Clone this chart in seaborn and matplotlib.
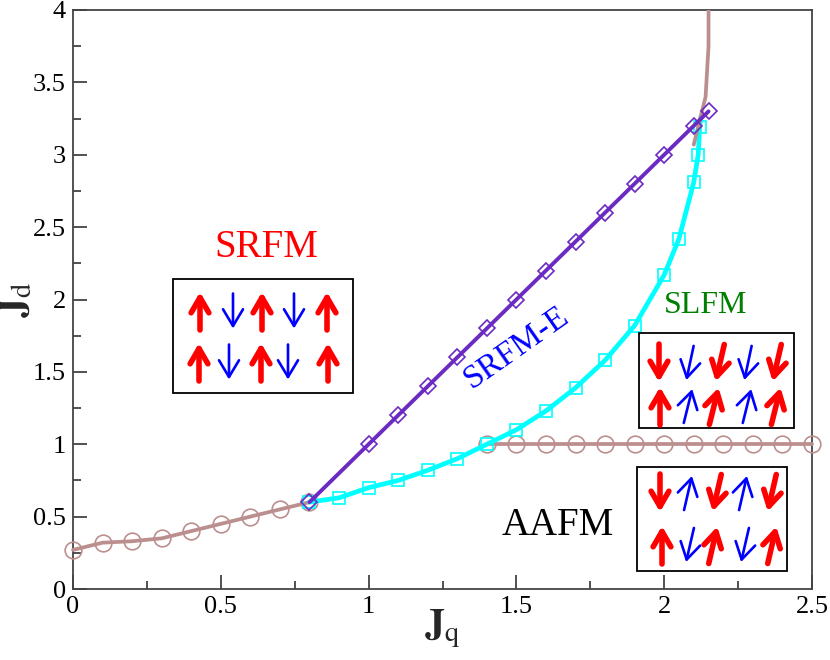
"""
Phase diagram in the (J_q, J_d) plane: SRFM, SRFM-E, SLFM and AAFM regions.
"""

import numpy as np
import matplotlib
matplotlib.use("Agg")
import matplotlib.pyplot as plt
from matplotlib.patches import Rectangle
from matplotlib.ticker import MultipleLocator, FuncFormatter
import seaborn as sns

# ---------------------------------------------------------------
# data
# ---------------------------------------------------------------
# AAFM / SRFM lower boundary (brown circles)
low_x = [0.0, 0.1, 0.2, 0.3, 0.4, 0.5, 0.6, 0.7, 0.8]
low_y = [0.27, 0.32, 0.33, 0.35, 0.40, 0.45, 0.50, 0.55, 0.60]

# AAFM / SLFM boundary (brown circles, flat)
flat_x = [1.4, 1.5, 1.6, 1.7, 1.8, 1.9, 2.0, 2.1, 2.2, 2.3, 2.4, 2.5]
flat_y = [1.0, 1.0, 1.0, 1.0, 1.0, 1.0, 1.0, 1.0, 1.0, 1.0, 1.0, 1.0]

# upper brown boundary (no markers)
top_x = [2.10, 2.14, 2.15, 2.15]
top_y = [3.07, 3.40, 3.75, 4.05]

# SRFM / SRFM-E boundary (purple diamonds)
diam_x = [0.8, 1.0, 1.1, 1.2, 1.3, 1.4, 1.5, 1.6, 1.7, 1.8, 1.9, 2.0, 2.1, 2.15]
diam_y = [0.6, 1.0, 1.2, 1.4, 1.6, 1.8, 2.0, 2.2, 2.4, 2.6, 2.8, 3.0, 3.2, 3.3]

# SRFM-E / SLFM boundary (cyan squares)
sq_x = [0.8, 0.9, 1.0, 1.1, 1.2, 1.3, 1.4, 1.5, 1.6, 1.7, 1.8, 1.9, 2.0, 2.05, 2.1, 2.115, 2.12]
sq_y = [0.60, 0.63, 0.70, 0.75, 0.82, 0.90, 1.00, 1.10, 1.23, 1.39, 1.58, 1.82, 2.17, 2.42, 2.81, 3.00, 3.19]
sq_line_end = (2.125, 3.27)

xticks = [0, 0.5, 1, 1.5, 2, 2.5]
yticks = [0, 0.5, 1, 1.5, 2, 2.5, 3, 3.5, 4]

BROWN = "#BC8F8F"
PURPLE = "#6B2BC2"
CYAN = "#00FFFF"

sns.set_style("ticks")
plt.rcParams["font.family"] = ["Liberation Serif", "DejaVu Serif"]
plt.rcParams["mathtext.fontset"] = "stix"

fig = plt.figure(figsize=(8.3, 6.6), dpi=100)
ax = fig.add_axes([73 / 830, 1 - 589 / 660, 739 / 830, 579 / 660])

# ---------------------------------------------------------------
# phase boundaries
# ---------------------------------------------------------------
common = dict(ax=ax, estimator=None, sort=False, clip_on=False)

sns.lineplot(x=low_x, y=low_y, color=BROWN, linewidth=2.7, marker="o", markersize=12,
             markerfacecolor="none", markeredgecolor=BROWN, markeredgewidth=1.2, zorder=3, **common)
sns.lineplot(x=flat_x, y=flat_y, color=BROWN, linewidth=2.7, marker="o", markersize=12,
             markerfacecolor="none", markeredgecolor=BROWN, markeredgewidth=1.2, zorder=3, **common)

sns.lineplot(x=sq_x + [sq_line_end[0]], y=sq_y + [sq_line_end[1]], color=CYAN,
             linewidth=3.4, zorder=4, **common)
sns.lineplot(x=sq_x, y=sq_y, color=CYAN, linewidth=0, marker="s", markersize=9,
             markerfacecolor="none", markeredgecolor=CYAN, markeredgewidth=1.2, zorder=4, **common)

sns.lineplot(x=top_x, y=top_y, color=BROWN, linewidth=2.7, zorder=5, ax=ax,
             estimator=None, sort=False)

sns.lineplot(x=diam_x, y=diam_y, color=PURPLE, linewidth=2.8, marker="D", markersize=8,
             markerfacecolor="none", markeredgecolor=PURPLE, markeredgewidth=1.2, zorder=6, **common)

# ---------------------------------------------------------------
# axes
# ---------------------------------------------------------------
ax.set_xlim(0, 2.5)
ax.set_ylim(0, 4)
ax.set_xticks(xticks)
ax.set_yticks(yticks)
ax.xaxis.set_minor_locator(MultipleLocator(0.25))
ax.yaxis.set_minor_locator(MultipleLocator(0.25))
fmt = FuncFormatter(lambda v, p: f"{v:g}")
ax.xaxis.set_major_formatter(fmt)
ax.yaxis.set_major_formatter(fmt)
ax.tick_params(which="both", direction="in", top=False, right=False, colors="#333333",
               labelcolor="black", labelsize=19, width=1.2)
ax.tick_params(which="major", length=10, pad=5)
ax.tick_params(which="minor", length=5.5)
for s in ax.spines.values():
    s.set_linewidth(1.3)
    s.set_color("#444444")

ax.set_xlabel(r"$\mathbf{J}_\mathrm{q}$", fontsize=29, labelpad=-7)
ax.set_ylabel(r"$\mathbf{J}_\mathrm{d}$", fontsize=29, labelpad=-2)

# ---------------------------------------------------------------
# region labels
# ---------------------------------------------------------------
ax.text(0.653, 2.356, "SRFM", color="red", fontsize=28, ha="center", va="center")
ax.text(1.50, 1.67, "SRFM-E", color="blue", fontsize=24, ha="center", va="center", rotation=35)
ax.text(2.141, 1.962, "SLFM", color="green", fontsize=23, ha="center", va="center")
ax.text(1.641, 0.442, "AAFM", color="black", fontsize=28, ha="center", va="center")

# ---------------------------------------------------------------
# spin cartoons (figure pixel coords, image y measured from top)
# ---------------------------------------------------------------
H = 660


def box(x0, y0, x1, y1):
    ax.add_patch(Rectangle((x0 / 830, 1 - y1 / H), (x1 - x0) / 830, (y1 - y0) / H,
                           transform=fig.transFigure, facecolor="white", clip_on=False,
                           edgecolor="black", linewidth=1.3, zorder=7))


def spin(cx, cy, up, tilt, red):
    # tilt in degrees, positive leans the head to the right
    length = 38 if red else 35
    t = np.radians(tilt)
    dx = 0.5 * length * np.sin(t)
    dy = 0.5 * length * np.cos(t)
    sgn = 1 if up else -1
    head = (cx + sgn * dx, H - cy + sgn * dy)
    tail = (cx - sgn * dx, H - cy - sgn * dy)
    if red:
        props = dict(arrowstyle="->,head_length=0.55,head_width=0.32", color="red", lw=4.0,
                     mutation_scale=20, shrinkA=0, shrinkB=0)
    else:
        props = dict(arrowstyle="->,head_length=0.6,head_width=0.36", color="blue", lw=1.9,
                     mutation_scale=20, shrinkA=0, shrinkB=0)
    a = ax.annotate("", xy=head, xytext=tail, xycoords="figure pixels",
                    textcoords="figure pixels", arrowprops=props,
                    annotation_clip=False)
    a.set_zorder(8)
    a.arrow_patch.set_zorder(8)


# SRFM
box(173, 279, 353, 393)
for cx, up, red in [(200, True, True), (233, False, False), (262, True, True),
                    (294, False, False), (327, True, True)]:
    spin(cx, 311, up, 0, red)
for cx, up, red in [(199, True, True), (229, False, False), (261, True, True),
                    (288, False, False), (328, True, True)]:
    spin(cx, 362, up, 0, red)

# SLFM
box(639, 333, 794, 428)
for cx, tilt, red in [(659, 0, True), (690, 12, False), (720, 13, True),
                      (748, 12, False), (777, 13, True)]:
    spin(cx, 363, False, tilt, red)
for cx, tilt, red in [(660, 0, True), (688, 14, False), (714, 14, True),
                      (747, 14, False), (776, 14, True)]:
    spin(cx, 406, True, tilt, red)

# AAFM
box(637, 467, 787, 571)
for cx, up, tilt, red in [(660, False, 0, True), (688, True, 13, False), (717, False, 13, True),
                          (743, True, 13, False), (772, False, 13, True)]:
    spin(cx, 493, up, tilt, red)
for cx, up, tilt, red in [(662, True, 0, True), (690, False, 13, False), (713, True, 13, True),
                          (745, False, 13, False), (772, True, 13, True)]:
    spin(cx, 545, up, tilt, red)

fig.savefig("out.png", dpi=100)
